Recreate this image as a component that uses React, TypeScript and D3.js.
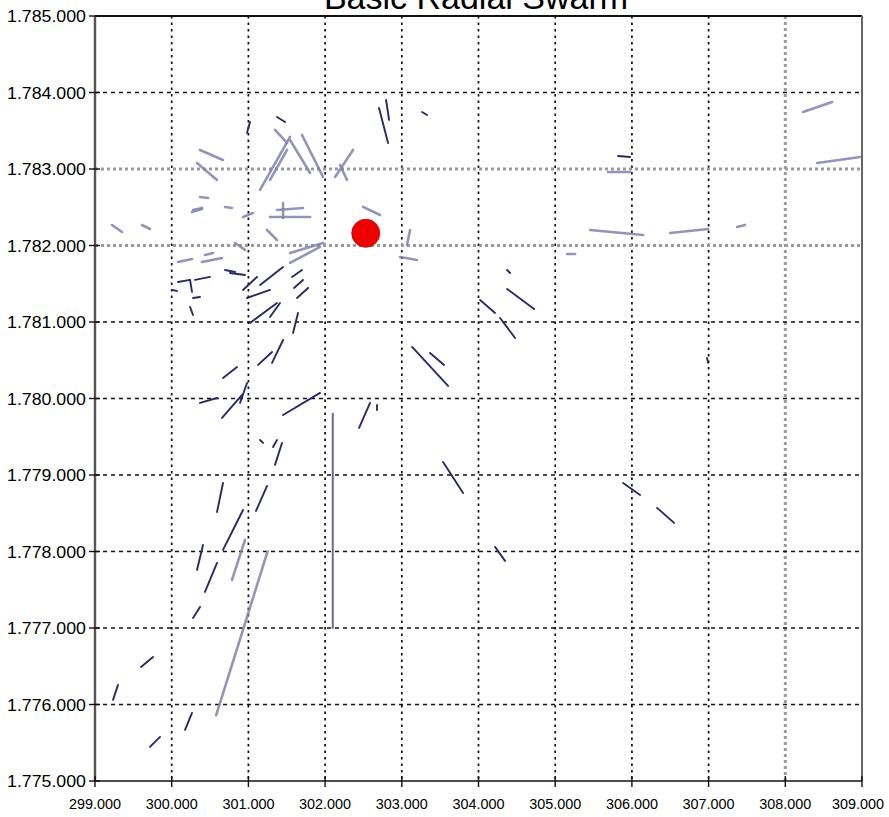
import React from "react";
import * as d3 from "d3";

// ---- data (metres) ----
const xTicks = [299000, 300000, 301000, 302000, 303000, 304000, 305000, 306000, 307000, 308000, 309000];
const yTicks = [1775000, 1776000, 1777000, 1778000, 1779000, 1780000, 1781000, 1782000, 1783000, 1784000, 1785000];
const titleText = "Basic Radial Swarm";

// the swarm centre
const centrePoint = { x: 302530, y: 1782160 };

// crisp (dark) segments: [x1, y1, x2, y2]
const darkSegments: number[][] = [
  [302703, 1783798, 302821, 1783340],
  [302795, 1783902, 302834, 1783641],
  [303264, 1783745, 303329, 1783706],
  [305820, 1783170, 305976, 1783157],
  [304372, 1781680, 304412, 1781641],
  [304372, 1781432, 304725, 1781170],
  [304020, 1781288, 304216, 1781118],
  [304281, 1781053, 304477, 1780791],
  [303134, 1780674, 303603, 1780164],
  [303368, 1780595, 303551, 1780439],
  [303538, 1779171, 303799, 1778766],
  [305885, 1778896, 306107, 1778739],
  [306328, 1778570, 306550, 1778374],
  [304216, 1778060, 304346, 1777877],
  [306980, 1780530, 306993, 1780465],
  [300930, 1778543, 300669, 1778021],
  [300408, 1778086, 300330, 1777759],
  [300591, 1777851, 300434, 1777472],
  [300369, 1777276, 300278, 1777132],
  [299756, 1776622, 299600, 1776491],
  [299300, 1776256, 299235, 1776060],
  [300265, 1775890, 300174, 1775668],
  [299848, 1775577, 299717, 1775446],
  [300669, 1778896, 300591, 1778517],
  [301243, 1778857, 301099, 1778530],
  [301438, 1779419, 301347, 1779132],
  [301152, 1779458, 301191, 1779419],
  [301373, 1779458, 301321, 1779367],
  [301934, 1780073, 301452, 1779785],
  [300917, 1780046, 300656, 1779746],
  [300982, 1780203, 300891, 1779942],
  [300369, 1779942, 300591, 1780007],
  [302586, 1779942, 302443, 1779615],
  [302677, 1779916, 302677, 1779850],
  [301452, 1780765, 301308, 1780465],
  [301308, 1780608, 301126, 1780439],
  [300852, 1780412, 300669, 1780269],
  [301373, 1781249, 301021, 1780988],
  [301647, 1781118, 301582, 1780857],
  [300239, 1781197, 300278, 1781092],
  [301452, 1781719, 301152, 1781484],
  [301699, 1781680, 301569, 1781589],
  [301778, 1781445, 301634, 1781314],
  [301712, 1781550, 301595, 1781445],
  [301282, 1781419, 300982, 1781314],
  [301112, 1781589, 300930, 1781419],
  [300760, 1781641, 300956, 1781615],
  [301412, 1781249, 301282, 1781066],
  [300082, 1781523, 300239, 1781550],
  [300239, 1781550, 300265, 1781393],
  [300304, 1781550, 300500, 1781589],
  [300278, 1781314, 300369, 1781327],
  [300004, 1781419, 300069, 1781406],
  [300695, 1781680, 300826, 1781654],
  [301373, 1783680, 301478, 1783615],
  [301021, 1783615, 300982, 1783471],
];

// long vertical segment
const verticalSegments: number[][] = [[302100, 1779800, 302100, 1777000]];

// blurred (faded) segments
const fadedSegments: number[][] = [
  [308232, 1783745, 308610, 1783876],
  [308415, 1783079, 308976, 1783157],
  [305690, 1782961, 305976, 1782961],
  [305455, 1782203, 306146, 1782138],
  [306498, 1782164, 306994, 1782216],
  [307372, 1782242, 307476, 1782268],
  [305155, 1781889, 305259, 1781889],
  [302977, 1781850, 303199, 1781811],
  [303108, 1782203, 303068, 1782007],
  [299222, 1782268, 299352, 1782177],
  [299613, 1782268, 299717, 1782216],
  [300265, 1782438, 300395, 1782477],
  [300695, 1782504, 300786, 1782491],
  [300082, 1781785, 300265, 1781824],
  [300395, 1781785, 300656, 1781837],
  [300434, 1781876, 300539, 1781902],
  [300826, 1782033, 300956, 1781942],
  [301699, 1783445, 301973, 1782896],
  [301543, 1783379, 301804, 1782948],
  [301152, 1782726, 301543, 1783419],
  [301282, 1782857, 301504, 1783249],
  [301347, 1783510, 301504, 1783340],
  [302130, 1782896, 302364, 1783249],
  [302195, 1783053, 302286, 1782857],
  [301282, 1782373, 301804, 1782373],
  [301452, 1782556, 301452, 1782360],
  [301373, 1782464, 301712, 1782491],
  [300330, 1783079, 300591, 1782857],
  [300369, 1783249, 300669, 1783118],
  [300278, 1782464, 300395, 1782491],
  [300930, 1782373, 301060, 1782425],
  [300369, 1782634, 300474, 1782621],
  [302495, 1782504, 302716, 1782399],
  [301543, 1781902, 301973, 1782033],
  [301543, 1781772, 301934, 1781981],
  [301243, 1782203, 301373, 1782072],
  [301250, 1778000, 300580, 1775860],
  [300956, 1778151, 300786, 1777629],
];

// grid lines that appear as heavy grey dots in the reference
const heavyGridX = [308000];
const heavyGridY = [1782000, 1783000];

const W = 889;
const H = 817;
const M = { left: 95, right: 862, top: 16, bottom: 781 };

const locale = d3.formatLocale({ decimal: ",", thousands: ".", grouping: [3], currency: ["", ""] });

export default function App() {
  const x = d3.scaleLinear().domain([299000, 309000]).range([M.left, M.right]);
  const y = d3.scaleLinear().domain([1775000, 1785000]).range([M.bottom, M.top]);
  const label = (v: number) => locale.format(",")(Math.floor(v / 1000)) + ".000";
  const font = "'Liberation Sans', Arial, sans-serif";

  const seg = (s: number[], i: number, stroke: string, w: number, op = 1) => (
    <line key={i} x1={x(s[0])} y1={y(s[1])} x2={x(s[2])} y2={y(s[3])}
      stroke={stroke} strokeWidth={w} strokeLinecap="round" opacity={op} />
  );

  return (
    <svg width={W} height={H} style={{ position: "absolute", left: 0, top: 0, background: "#fff" }}
      fontFamily={font}>
      <rect x={0} y={0} width={W} height={H} fill="#fff" />
      {/* title, cut off at the top as in the reference */}
      <text x={476} y={9} textAnchor="middle" fontSize={34} fill="#000">{titleText}</text>

      {/* grid */}
      {xTicks.slice(1, -1).map((t) => (
        <line key={"gx" + t} x1={x(t)} x2={x(t)} y1={M.top} y2={M.bottom}
          stroke={heavyGridX.includes(t) ? "#9a9a9a" : "#111"}
          strokeWidth={heavyGridX.includes(t) ? 3 : 1.7}
          strokeDasharray={heavyGridX.includes(t) ? "3,3" : "2.5,4"} />
      ))}
      {yTicks.slice(1, -1).map((t) => (
        <line key={"gy" + t} y1={y(t)} y2={y(t)} x1={M.left} x2={M.right}
          stroke={heavyGridY.includes(t) ? "#9a9a9a" : "#111"}
          strokeWidth={heavyGridY.includes(t) ? 3 : 1.5}
          strokeDasharray={heavyGridY.includes(t) ? "3,3" : "4,4"} />
      ))}

      {/* segments */}
      {fadedSegments.map((s, i) => seg(s, i, "#8282ae", 2.6, 0.85))}
      {verticalSegments.map((s, i) => seg(s, i, "#6a6a98", 2))}
      {darkSegments.map((s, i) => seg(s, i, "#2a2a66", 1.9))}

      {/* centre point */}
      <circle cx={x(centrePoint.x)} cy={y(centrePoint.y)} r={14} fill="#ee0000" stroke="#cc1010" strokeWidth={1} />

      {/* frame */}
      <line x1={M.left} x2={M.right} y1={M.top} y2={M.top} stroke="#111" strokeWidth={2} />
      <line x1={M.right} x2={M.right} y1={M.top} y2={M.bottom} stroke="#666" strokeWidth={2} />
      <line x1={M.left} x2={M.right} y1={M.bottom} y2={M.bottom} stroke="#111" strokeWidth={1.6} />
      <line x1={M.left} x2={M.left} y1={M.top} y2={M.bottom} stroke="#555" strokeWidth={2.4} />

      {/* ticks and labels */}
      {yTicks.map((t) => (
        <g key={"ty" + t}>
          <line x1={M.left - 6} x2={M.left + 5} y1={y(t)} y2={y(t)} stroke="#111" strokeWidth={1.4} />
          <text x={86} y={y(t) + 6} textAnchor="end" fontSize={16} fill="#000"
            textLength={79} lengthAdjust="spacingAndGlyphs">{label(t)}</text>
        </g>
      ))}
      {xTicks.map((t, i) => (
        <g key={"tx" + t}>
          <line x1={x(t)} x2={x(t)} y1={M.bottom - 5} y2={M.bottom + 6} stroke="#111" strokeWidth={1.4} />
          <text x={i === xTicks.length - 1 ? x(t) - 4 : x(t)} y={809} textAnchor="middle" fontSize={15.5} fill="#000"
            textLength={52} lengthAdjust="spacingAndGlyphs">{label(t)}</text>
        </g>
      ))}
    </svg>
  );
}
